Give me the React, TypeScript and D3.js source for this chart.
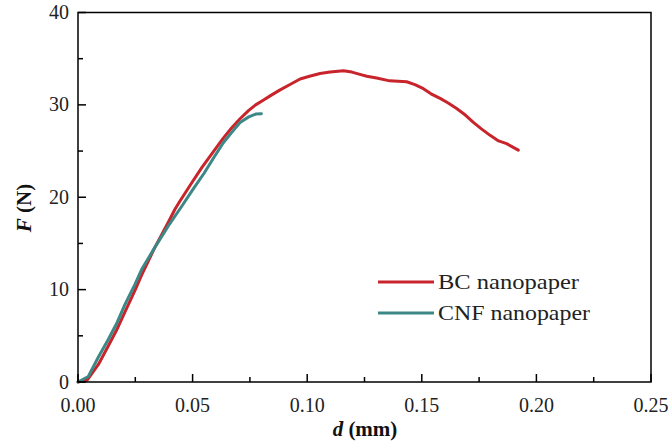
import React from "react";
import * as d3 from "d3";

const bcD = [0, 0.004, 0.0089, 0.0132, 0.0168, 0.0205, 0.0249, 0.0278, 0.0336, 0.0394, 0.0423, 0.0445, 0.05, 0.054, 0.059, 0.0634, 0.067, 0.0707, 0.0745, 0.0775, 0.0808, 0.084, 0.088, 0.0925, 0.0969, 0.101, 0.1056, 0.11, 0.1158, 0.1195, 0.123, 0.126, 0.1303, 0.136, 0.1434, 0.147, 0.1507, 0.154, 0.158, 0.1615, 0.1652, 0.169, 0.1725, 0.176, 0.1798, 0.1835, 0.187, 0.1921];
const bcF = [0, 0.2, 1.9, 3.9, 5.6, 7.6, 9.95, 11.6, 14.6, 17.3, 18.7, 19.6, 21.7, 23.2, 24.9, 26.4, 27.5, 28.5, 29.4, 30.0, 30.5, 31.0, 31.6, 32.2, 32.8, 33.1, 33.4, 33.55, 33.7, 33.55, 33.3, 33.1, 32.9, 32.6, 32.5, 32.2, 31.75, 31.2, 30.7, 30.2, 29.6, 28.9, 28.1, 27.4, 26.7, 26.1, 25.8, 25.1];

const cnfD = [0, 0.0045, 0.0089, 0.0132, 0.0168, 0.0205, 0.0249, 0.0278, 0.0336, 0.0394, 0.0452, 0.05, 0.055, 0.059, 0.0634, 0.067, 0.0707, 0.0745, 0.0775, 0.080];
const cnfF = [0, 0.6, 2.7, 4.6, 6.3, 8.4, 10.6, 12.2, 14.6, 16.9, 19.0, 20.8, 22.6, 24.2, 25.9, 27.0, 28.1, 28.7, 29.0, 29.05];

const xTicks = [0, 0.05, 0.1, 0.15, 0.2, 0.25];
const xMinor = [0.025, 0.075, 0.125, 0.175, 0.225];
const yTicks = [0, 10, 20, 30, 40];
const yMinor = [5, 15, 25, 35];
const seriesNames = ["BC nanopaper", "CNF nanopaper"];
const legendWidths = [141, 152];

const RED = "#c8242b";
const TEAL = "#3d8886";

export default function App() {
  const left = 78, right = 651, top = 12.5, bottom = 382;
  const x = d3.scaleLinear().domain([0, 0.25]).range([left, right]);
  const y = d3.scaleLinear().domain([0, 40]).range([bottom, top]);
  const line = d3
    .line<[number, number]>()
    .x((d) => x(d[0]))
    .y((d) => y(d[1]))
    .curve(d3.curveLinear);
  const bc = bcD.map((d, i) => [d, bcF[i]] as [number, number]);
  const cnf = cnfD.map((d, i) => [d, cnfF[i]] as [number, number]);
  const font = "'Liberation Serif', 'Times New Roman', serif";
  const majorLen = 8, minorLen = 5;

  return (
    <svg
      width={669}
      height={444}
      style={{ position: "absolute", left: 0, top: 0, background: "#fff" }}
      fontFamily={font}
    >
      <rect x={0} y={0} width={669} height={444} fill="#fff" />
      <path d={line(bc) || ""} fill="none" stroke={RED} strokeWidth={3} strokeLinejoin="round" strokeLinecap="round" />
      <path d={line(cnf) || ""} fill="none" stroke={TEAL} strokeWidth={3} strokeLinejoin="round" strokeLinecap="round" />

      <rect x={left} y={top} width={right - left} height={bottom - top} fill="none" stroke="#000" strokeWidth={1.5} />

      {xTicks.map((t) => (
        <g key={"xt" + t}>
          <line x1={x(t)} x2={x(t)} y1={bottom} y2={bottom - majorLen} stroke="#000" strokeWidth={1.5} />
          <text x={x(t)} y={412} textAnchor="middle" fontSize={20} fill="#222">
            {t.toFixed(2)}
          </text>
        </g>
      ))}
      {xMinor.map((t) => (
        <line key={"xm" + t} x1={x(t)} x2={x(t)} y1={bottom} y2={bottom - minorLen} stroke="#000" strokeWidth={1.5} />
      ))}
      {yTicks.map((t) => (
        <g key={"yt" + t}>
          <line x1={left} x2={left + majorLen} y1={y(t)} y2={y(t)} stroke="#000" strokeWidth={1.5} />
          <text x={69} y={y(t)} dy="0.33em" textAnchor="end" fontSize={20} fill="#222">
            {t}
          </text>
        </g>
      ))}
      {yMinor.map((t) => (
        <line key={"ym" + t} x1={left} x2={left + minorLen} y1={y(t)} y2={y(t)} stroke="#000" strokeWidth={1.5} />
      ))}

      <text x={365} y={436} textAnchor="middle" fontSize={21} fontWeight="bold" fill="#111">
        <tspan fontStyle="italic">d</tspan> (mm)
      </text>
      <text
        transform="translate(31,208) rotate(-90)"
        textAnchor="middle"
        fontSize={21}
        fontWeight="bold"
        fill="#111"
      >
        <tspan fontStyle="italic">F</tspan> (N)
      </text>

      {seriesNames.map((name, i) => (
        <g key={name}>
          <line x1={378} x2={434} y1={282 + i * 31} y2={282 + i * 31} stroke={i === 0 ? RED : TEAL} strokeWidth={3} />
          <text
            x={438}
            y={282 + i * 31}
            dy="0.33em"
            fontSize={21}
            fill="#222"
            textLength={legendWidths[i]}
            lengthAdjust="spacingAndGlyphs"
          >
            {name}
          </text>
        </g>
      ))}
    </svg>
  );
}
